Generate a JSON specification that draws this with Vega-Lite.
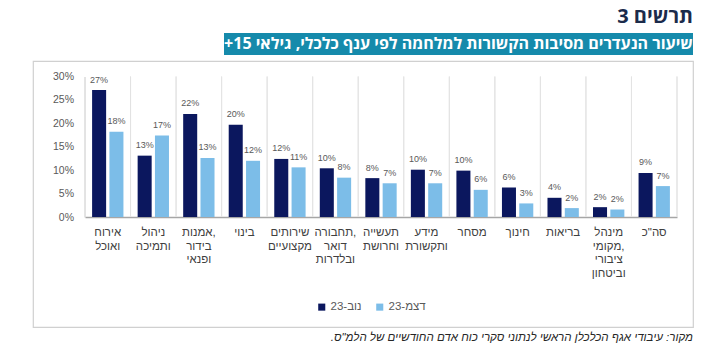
{
  "$schema": "https://vega.github.io/schema/vega-lite/v6.json",
  "background": "white",
  "padding": {"left": 32, "top": 7, "right": 0, "bottom": 0},
  "config": {
    "font": "Liberation Sans",
    "view": {"stroke": null}
  },
  "bounds": "full",
  "spacing": 5,
  "vconcat": [
    {
      "bounds": "flush",
      "spacing": 5,
      "hconcat": [
        {
          "width": 186,
          "height": 22,
          "data": {"values": []},
          "mark": "text",
          "view": {"stroke": null, "fill": "white"}
        },
        {
          "width": 469,
          "height": 22,
          "data": {"values": [{"t": "שיעור הנעדרים מסיבות הקשורות למלחמה לפי ענף כלכלי, גילאי 15+\u200f"}]},
          "mark": {"type": "text", "color": "white", "fontSize": 16, "fontWeight": "bold", "baseline": "middle", "font": "Open Sans"},
          "encoding": {"text": {"field": "t"}},
          "view": {"fill": "#158aab", "stroke": null},
          "title": {"text": "תרשים 3", "anchor": "end", "fontSize": 20, "fontWeight": "bold", "color": "#1b2b4b", "offset": 6, "font": "Open Sans"}
        }
      ]
    },
    {
      "width": 660,
      "height": 266,
      "view": {"stroke": "#d0d0d0", "strokeWidth": 1.2},
      "title": {"text": "מקור: עיבודי אגף הכלכלן הראשי לנתוני סקרי כוח אדם החודשיים של הלמ\"ס.\u200f", "orient": "bottom", "anchor": "end", "fontSize": 11.5, "fontStyle": "italic", "fontWeight": "normal", "color": "#262626", "offset": 5},
      "data": {"values": [
        {"cat": "אירוח ואוכל", "series": "נוב-23", "v": 0.271},
        {"cat": "אירוח ואוכל", "series": "דצמ-23", "v": 0.182},
        {"cat": "ניהול ותמיכה", "series": "נוב-23", "v": 0.131},
        {"cat": "ניהול ותמיכה", "series": "דצמ-23", "v": 0.174},
        {"cat": "אמנות, בידור ופנאי", "series": "נוב-23", "v": 0.22},
        {"cat": "אמנות, בידור ופנאי", "series": "דצמ-23", "v": 0.126},
        {"cat": "בינוי", "series": "נוב-23", "v": 0.197},
        {"cat": "בינוי", "series": "דצמ-23", "v": 0.12},
        {"cat": "שירותים מקצועיים", "series": "נוב-23", "v": 0.124},
        {"cat": "שירותים מקצועיים", "series": "דצמ-23", "v": 0.106},
        {"cat": "תחבורה, דואר ובלדרות", "series": "נוב-23", "v": 0.104},
        {"cat": "תחבורה, דואר ובלדרות", "series": "דצמ-23", "v": 0.084},
        {"cat": "תעשייה וחרושת", "series": "נוב-23", "v": 0.083},
        {"cat": "תעשייה וחרושת", "series": "דצמ-23", "v": 0.072},
        {"cat": "מידע ותקשורת", "series": "נוב-23", "v": 0.101},
        {"cat": "מידע ותקשורת", "series": "דצמ-23", "v": 0.072},
        {"cat": "מסחר", "series": "נוב-23", "v": 0.099},
        {"cat": "מסחר", "series": "דצמ-23", "v": 0.058},
        {"cat": "חינוך", "series": "נוב-23", "v": 0.063},
        {"cat": "חינוך", "series": "דצמ-23", "v": 0.029},
        {"cat": "בריאות", "series": "נוב-23", "v": 0.041},
        {"cat": "בריאות", "series": "דצמ-23", "v": 0.019},
        {"cat": "מינהל מקומי, ציבורי וביטחון", "series": "נוב-23", "v": 0.021},
        {"cat": "מינהל מקומי, ציבורי וביטחון", "series": "דצמ-23", "v": 0.016},
        {"cat": "סה\"כ", "series": "נוב-23", "v": 0.094},
        {"cat": "סה\"כ", "series": "דצמ-23", "v": 0.066}
      ]},
      "layer": [
        {
          "mark": {"type": "rule", "color": "#e3e3e3", "strokeWidth": 1},
          "encoding": {
            "x": {"field": "cat", "type": "nominal", "sort": null, "bandPosition": 1},
            "y": {"datum": 0},
            "y2": {"datum": 0.3}
          }
        },
        {
          "mark": {"type": "bar"},
          "encoding": {
            "x": {
              "field": "cat", "type": "nominal", "sort": null,
              "scale": {
                "domain": ["אירוח ואוכל", "ניהול ותמיכה", "אמנות, בידור ופנאי", "בינוי", "שירותים מקצועיים", "תחבורה, דואר ובלדרות", "תעשייה וחרושת", "מידע ותקשורת", "מסחר", "חינוך", "בריאות", "מינהל מקומי, ציבורי וביטחון", "סה\"כ"],
                "range": [52, 644], "paddingInner": 0, "paddingOuter": 0
              },
              "axis": {
                "orient": "bottom", "offset": -110, "title": null,
                "domainColor": "#a6a6a6", "domainWidth": 1.5, "ticks": false,
                "labels": false
              }
            },
            "xOffset": {
              "field": "series", "type": "nominal", "sort": ["נוב-23", "דצמ-23"],
              "scale": {"paddingInner": 0.19, "paddingOuter": 0.41}
            },
            "y": {
              "field": "v", "type": "quantitative",
              "scale": {"domain": [0, 0.3], "range": [156, 15.5], "nice": false},
              "axis": {
                "values": [0, 0.05, 0.1, 0.15, 0.2, 0.25, 0.3], "format": ".0%",
                "title": null, "ticks": false, "grid": false, "offset": -51.5,
                "domainColor": "#c8c8c8", "labelColor": "#595959",
                "labelFontSize": 10.5, "labelPadding": 11
              }
            },
            "color": {
              "field": "series", "type": "nominal",
              "scale": {"domain": ["נוב-23", "דצמ-23"], "range": ["#0b175e", "#7cbde8"]},
              "legend": {
                "orient": "none", "legendX": 283, "legendY": 268, "direction": "horizontal",
                "title": null, "symbolType": "square", "symbolSize": 50,
                "symbolStrokeWidth": 0, "labelFontSize": 11.5, "labelColor": "#595959",
                "columnPadding": 12, "labelOffset": 3
              }
            }
          }
        },
        {
          "mark": {"type": "text", "baseline": "middle", "dy": -10.5, "fontSize": 9, "color": "#595959"},
          "encoding": {
            "x": {"field": "cat", "type": "nominal", "sort": null},
            "xOffset": {"field": "series", "type": "nominal", "sort": ["נוב-23", "דצמ-23"]},
            "y": {"field": "v", "type": "quantitative"},
            "text": {"field": "v", "type": "quantitative", "format": ".0%"}
          }
        },
        {
          "transform": [{"filter": "datum.series == 'נוב-23'"}],
          "mark": {"type": "text", "baseline": "top", "align": "center", "dir": "rtl", "lineBreak": " ", "lineHeight": 13.5, "dy": 10, "fontSize": 11.5, "color": "#404040"},
          "encoding": {
            "x": {"field": "cat", "type": "nominal", "sort": null},
            "y": {"datum": 0},
            "text": {"field": "cat"}
          }
        }
      ]
    }
  ]
}
